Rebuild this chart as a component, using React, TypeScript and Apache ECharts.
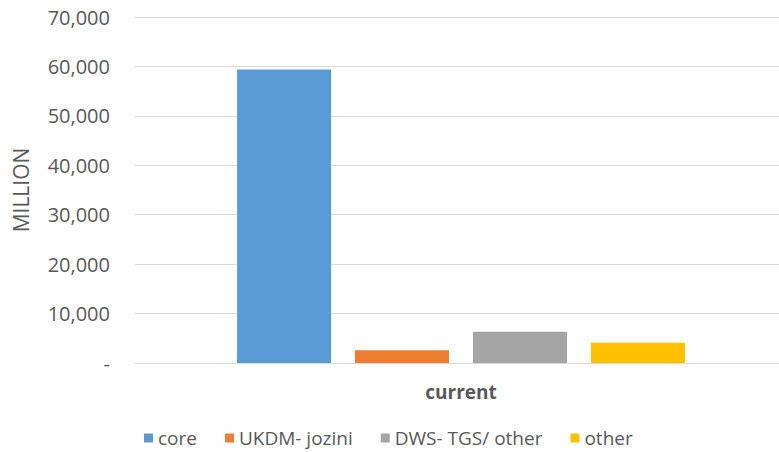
import React, { useEffect, useRef } from "react";
import * as echarts from "echarts";

const categories = ["current"];
const seriesNames = ["core", "UKDM- jozini", "DWS- TGS/ other", "other"];
const coreValues = [59400];
const ukdmValues = [2600];
const dwsValues = [6300];
const otherValues = [4100];
const seriesColors = ["#5B9BD5", "#ED7D31", "#A5A5A5", "#FFC000"];
const yTicks = { min: 0, max: 70000, interval: 10000 };

export default function App() {
  const ref = useRef<HTMLDivElement>(null);
  useEffect(() => {
    if (!ref.current) return;
    const chart = echarts.init(ref.current, undefined, { renderer: "svg" });
    const values = [coreValues, ukdmValues, dwsValues, otherValues];
    const font = "'Open Sans', 'Noto Sans', sans-serif";
    chart.setOption({
      animation: false,
      textStyle: { fontFamily: font },
      grid: { left: 135, right: 0, top: 17, bottom: 89, containLabel: false },
      legend: {
        data: seriesNames,
        left: 144,
        top: 428,
        padding: 0,
        icon: "rect",
        itemWidth: 9,
        itemHeight: 9,
        itemGap: 28,
        textStyle: { color: "#595959", fontSize: 19, lineHeight: 20, fontFamily: font },
      },
      xAxis: {
        type: "category",
        data: categories,
        axisLine: { show: true, lineStyle: { color: "#d9d9d9", width: 1 } },
        axisTick: { show: false },
        axisLabel: {
          color: "#595959",
          fontSize: 19,
          fontWeight: "bold",
          margin: 19,
          fontFamily: font,
        },
      },
      yAxis: {
        type: "value",
        min: yTicks.min,
        max: yTicks.max,
        interval: yTicks.interval,
        name: "MILLION",
        nameLocation: "middle",
        nameGap: 104,
        nameTextStyle: { color: "#595959", fontSize: 21, fontFamily: font },
        axisLine: { show: false },
        axisTick: { show: false },
        splitLine: { lineStyle: { color: "#d9d9d9", width: 1 } },
        axisLabel: {
          color: "#595959",
          fontSize: 20,
          margin: 25,
          fontFamily: font,
          formatter: (v: number) => (v === 0 ? "-" : v.toLocaleString("en-US")),
        },
      },
      series: seriesNames.map((name, i) => ({
        name,
        type: "bar",
        data: values[i],
        barWidth: 94,
        barGap: "25.5%",
        itemStyle: { color: seriesColors[i] },
      })),
    });
    return () => chart.dispose();
  }, []);
  return (
    <div
      style={{
        position: "absolute",
        left: 0,
        top: 0,
        width: 779,
        height: 452,
        overflow: "hidden",
        background: "#fff",
      }}
    >
      <div ref={ref} style={{ width: 787, height: 452 }} />
    </div>
  );
}
